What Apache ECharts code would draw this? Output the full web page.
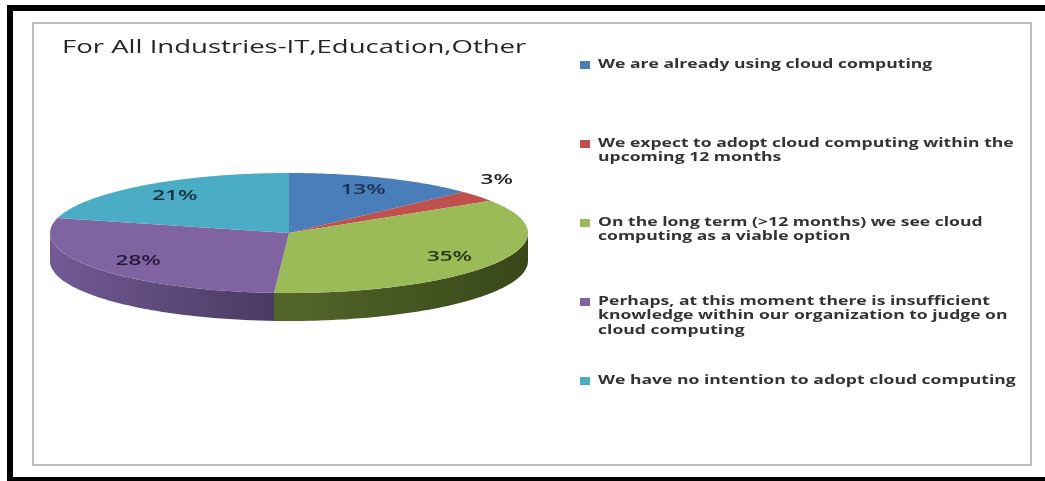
<!DOCTYPE html>
<html>
<head>
<meta charset="utf-8">
<script src="https://cdn.jsdelivr.net/npm/echarts@6/dist/echarts.min.js"></script>
<style>
  html, body { margin: 0; padding: 0; background: #fff; }
  #chart { width: 1045px; height: 481px; }
</style>
</head>
<body>
<div id="chart"></div>
<script>
// data
const titleText = 'For All Industries-IT,Education,Other';
const categories = [
  'We are already using cloud computing',
  'We expect to adopt cloud computing within the\nupcoming 12 months',
  'On the long term (>12 months) we see cloud\ncomputing as a viable option',
  'Perhaps, at this moment there is insufficient\nknowledge within our organization to judge on\ncloud computing',
  'We have no intention to adopt cloud computing'
];
const values = [13, 3, 35, 28, 21];
const topColors = ['#4a7ebb', '#c0504d', '#9bbb59', '#8064a2', '#4bacc6'];
const sideColors = [
  ['#3a6496', '#2c4c73'],
  ['#9a3f3d', '#7a3230'],
  ['#53672a', '#394719'],
  ['#735a95', '#4a3a61'],
  ['#3b8aa0', '#2d6a7a']
];
const labelColors = ['#1f2f4f', '#262626', '#2b3612', '#25183a', '#10323c'];

// pie geometry (squashed 3D look)
const PIE = { cx: 289, cy: 233, rx: 239, ry: 60, depth: 28 };
const total = values.reduce((a, b) => a + b, 0);
const starts = [];
let acc = 0;
values.forEach(v => { starts.push(acc); acc += v; });

function pt(deg, dy) {
  const r = deg * Math.PI / 180;
  return [PIE.cx + PIE.rx * Math.sin(r), PIE.cy - PIE.ry * Math.cos(r) + (dy || 0)];
}
function arc(a0, a1, dy) {
  const n = Math.max(2, Math.ceil(a1 - a0));
  const pts = [];
  for (let i = 0; i <= n; i++) pts.push(pt(a0 + (a1 - a0) * i / n, dy));
  return pts;
}
function sliceAngles(i) {
  return [starts[i] / total * 360, (starts[i] + values[i]) / total * 360];
}

const FONT = '"Open Sans", "Liberation Sans", sans-serif';

const chart = echarts.init(document.getElementById('chart'));

const graphics = [
  // outer black frame
  { type: 'rect', silent: true, z: -10, shape: { x: 7, y: 5, width: 1045, height: 480 }, style: { fill: '#000' } },
  { type: 'rect', silent: true, z: -9, shape: { x: 13, y: 11, width: 1040, height: 466 }, style: { fill: '#fff' } },
  // grey chart area border
  { type: 'rect', silent: true, z: -8, shape: { x: 33, y: 23, width: 998, height: 442 }, style: { fill: '#fff', stroke: '#bdbdbd', lineWidth: 2 } },
  {
    type: 'text', x: 62, y: 48, scaleX: 1.53,
    style: { text: titleText, fontFamily: FONT, fontSize: 18, fill: '#262626', verticalAlign: 'middle' }
  }
];

categories.forEach((name, i) => {
  const top = 65 + i * 79;
  graphics.push({
    type: 'rect', silent: true,
    shape: { x: 580, y: top - 4, width: 10, height: 8 },
    style: { fill: topColors[i] }
  });
  graphics.push({
    type: 'text', x: 598, y: top - 8, scaleX: 1.35,
    style: {
      text: name, fontFamily: FONT, fontSize: 13, fontWeight: 700,
      fill: '#333', lineHeight: 14.5, verticalAlign: 'top'
    }
  });
});

const option = {
  animation: false,
  backgroundColor: '#fff',
  graphic: graphics,
  series: [
    {
      // side walls of the front half
      type: 'custom',
      coordinateSystem: 'none',
      z: 1,
      data: values,
      renderItem: function (params) {
        const i = params.dataIndex;
        const [a0, a1] = sliceAngles(i);
        const s0 = Math.max(a0, 90), s1 = Math.min(a1, 270);
        if (s1 <= s0) return { type: 'group', children: [] };
        const pts = arc(s0, s1, 0).concat(arc(s0, s1, PIE.depth).reverse());
        return {
          type: 'polygon',
          shape: { points: pts },
          style: {
            fill: new echarts.graphic.LinearGradient(0, 0, 1, 0, [
              { offset: 0, color: sideColors[i][0] },
              { offset: 1, color: sideColors[i][1] }
            ])
          }
        };
      }
    },
    {
      // top faces with percentage labels
      type: 'custom',
      coordinateSystem: 'none',
      z: 2,
      data: values,
      renderItem: function (params) {
        const i = params.dataIndex;
        const [a0, a1] = sliceAngles(i);
        const pts = [[PIE.cx, PIE.cy]].concat(arc(a0, a1, 0));
        const mid = (a0 + a1) / 2 * Math.PI / 180;
        const small = values[i] < 5;
        const fx = small ? 1.1 : 0.78, fy = small ? 1.45 : 0.78;
        const lx = PIE.cx + PIE.rx * Math.sin(mid) * fx;
        const ly = PIE.cy - PIE.ry * Math.cos(mid) * fy;
        const pct = Math.round(values[i] / total * 100) + '%';
        return {
          type: 'group',
          children: [
            { type: 'polygon', shape: { points: pts }, style: { fill: topColors[i] } },
            {
              type: 'text', x: lx, y: ly, scaleX: 1.5, z2: 10,
              style: {
                text: pct, fontFamily: FONT, fontSize: 15, fontWeight: 600,
                fill: labelColors[i], align: 'center', verticalAlign: 'middle'
              }
            }
          ]
        };
      }
    }
  ]
};

chart.setOption(option);
</script>
</body>
</html>
